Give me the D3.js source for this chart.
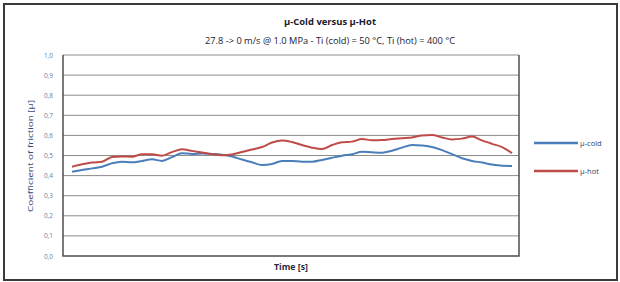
<!DOCTYPE html>
<html>
<head>
<meta charset="utf-8">
<script src="https://cdn.jsdelivr.net/npm/d3@7"></script>
<style>
  body { margin: 0; background: #fff; }
  svg { display: block; font-family: "Open Sans", "Liberation Sans", sans-serif; }
</style>
</head>
<body>
<div id="chart"></div>
<script>
// values, one sample every ~10 px along the time axis
var muCold = [0.419, 0.428, 0.436, 0.444, 0.461, 0.469, 0.466, 0.473, 0.481, 0.473,
              0.492, 0.511, 0.508, 0.510, 0.508, 0.504, 0.495, 0.480, 0.466, 0.453,
              0.458, 0.473, 0.473, 0.469, 0.469, 0.478, 0.489, 0.499, 0.506, 0.519,
              0.516, 0.514, 0.524, 0.539, 0.552, 0.550, 0.542, 0.527, 0.507, 0.486,
              0.473, 0.465, 0.455, 0.449, 0.448];
var muHot  = [0.444, 0.456, 0.465, 0.469, 0.493, 0.495, 0.494, 0.506, 0.506, 0.499,
              0.517, 0.531, 0.523, 0.515, 0.507, 0.501, 0.505, 0.517, 0.530, 0.542,
              0.565, 0.575, 0.567, 0.552, 0.539, 0.532, 0.552, 0.566, 0.569, 0.582,
              0.576, 0.577, 0.582, 0.586, 0.590, 0.600, 0.602, 0.590, 0.580, 0.584,
              0.594, 0.575, 0.558, 0.542, 0.512];
var seriesNames = ["µ-cold", "µ-hot"];
var seriesColors = ["#4a7ebb", "#be4b48"];
var yTicks = [0, 0.1, 0.2, 0.3, 0.4, 0.5, 0.6, 0.7, 0.8, 0.9, 1.0];

var W = 620, H = 282;
var svg = d3.select("#chart").append("svg").attr("width", W).attr("height", H);

// outer chart frame
svg.append("rect").attr("x", 4).attr("y", 4).attr("width", 613).attr("height", 276)
  .attr("fill", "#fff").attr("stroke", "#3a3a3a").attr("stroke-width", 2);

var plot = {left: 63, right: 519, top: 55, bottom: 256};

var x = d3.scaleLinear().domain([0, muCold.length - 1]).range([72, 512]);
var y = d3.scaleLinear().domain([0, 1]).range([plot.bottom, plot.top]);

// gridlines
svg.append("g").selectAll("line").data(yTicks.slice(1)).enter().append("line")
  .attr("x1", plot.left).attr("x2", plot.right)
  .attr("y1", d => y(d)).attr("y2", d => y(d))
  .attr("stroke", "#8c8c8c").attr("stroke-width", 1);

// y axis labels
var yAxis = d3.axisLeft(y).tickValues(yTicks).tickSize(0).tickPadding(10)
  .tickFormat(d => d3.format(".1f")(d).replace(".", ","));
var ga = svg.append("g").attr("transform", "translate(" + plot.left + ",0)").call(yAxis);
ga.select(".domain").remove();
ga.selectAll("text").attr("font-size", 6.5).attr("fill", "#6b7f99")
  .attr("font-family", "Open Sans, sans-serif");

// plot area border (left, bottom, right)
svg.append("path")
  .attr("d", "M" + plot.left + "," + plot.top + "V" + plot.bottom + "H" + plot.right + "V" + plot.top)
  .attr("fill", "none").attr("stroke", "#4d4d4d").attr("stroke-width", 1.5);

// series
var line = d3.line().x((d, i) => x(i)).y(d => y(d)).curve(d3.curveMonotoneX);
[muCold, muHot].forEach(function(s, k) {
  svg.append("path").datum(s).attr("d", line)
    .attr("fill", "none").attr("stroke", seriesColors[k]).attr("stroke-width", 2);
});

// titles
svg.append("text").attr("x", 330).attr("y", 25).attr("text-anchor", "middle")
  .attr("font-size", 9.5).attr("font-weight", "bold").attr("fill", "#1a1a2e")
  .attr("textLength", 92).attr("lengthAdjust", "spacingAndGlyphs")
  .text("µ-Cold versus µ-Hot");
svg.append("text").attr("x", 330).attr("y", 44).attr("text-anchor", "middle")
  .attr("font-size", 9.5).attr("fill", "#1a1a2e")
  .attr("textLength", 250).attr("lengthAdjust", "spacingAndGlyphs")
  .text("27.8 -> 0 m/s @ 1.0 MPa - Ti (cold) = 50 °C, Ti (hot) = 400 °C");

// axis titles
svg.append("text").attr("transform", "translate(33,156) rotate(-90)")
  .attr("text-anchor", "middle").attr("font-size", 7.5).attr("fill", "#2f4b7a")
  .attr("textLength", 112).attr("lengthAdjust", "spacingAndGlyphs")
  .text("Coefficient of friction [µ]");
svg.append("text").attr("x", 291).attr("y", 270).attr("text-anchor", "middle")
  .attr("font-size", 8).attr("font-weight", "bold").attr("fill", "#2b2b3b")
  .attr("textLength", 34).attr("lengthAdjust", "spacingAndGlyphs")
  .text("Time [s]");

// legend
var leg = svg.append("g").selectAll("g").data(seriesNames).enter().append("g")
  .attr("transform", (d, i) => "translate(534," + (143 + i * 28) + ")");
leg.append("line").attr("x1", 0).attr("x2", 44).attr("y1", 0).attr("y2", 0)
  .attr("stroke", (d, i) => seriesColors[i]).attr("stroke-width", 2.5);
leg.append("text").attr("x", 46).attr("y", 3).attr("font-size", 7.5).attr("fill", "#2f3f5f")
  .text(d => d);
</script>
</body>
</html>
